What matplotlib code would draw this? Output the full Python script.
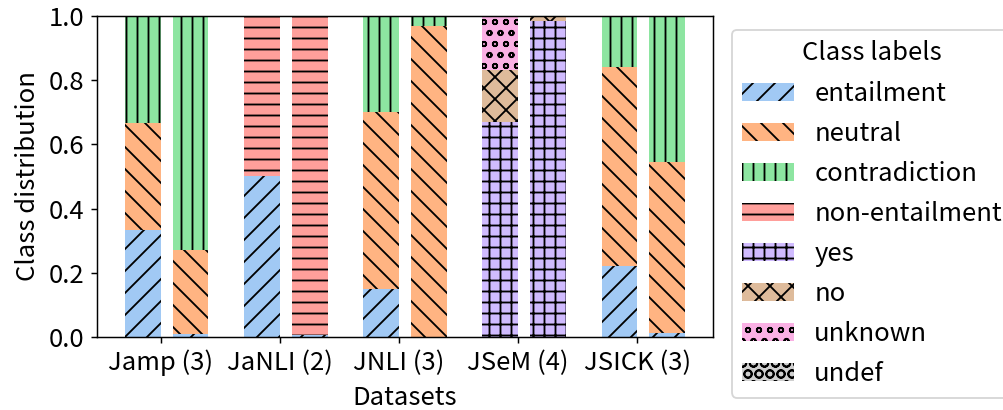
import matplotlib
matplotlib.use("Agg")
import matplotlib.pyplot as plt
import numpy as np

plt.rcParams['font.family'] = ['Noto Sans CJK JP', 'DejaVu Sans']
plt.rcParams['font.size'] = 14

datasets = ['Jamp (3)', 'JaNLI (2)', 'JNLI (3)', 'JSeM (4)', 'JSICK (3)']
class_labels = ['entailment', 'neutral', 'contradiction', 'non-entailment',
                'yes', 'no', 'unknown', 'undef']
colors = ['#a1c9f4', '#ffb482', '#8de5a1', '#ff9f9b',
          '#d0bbff', '#debb9b', '#fab0e4', '#cfcfcf']
hatches = ['//', '\\\\', '||', '--', '++', 'xx', 'oo', 'OO']

# first bar of each dataset (train split)
train_entailment = [0.333, 0.500, 0.149, 0.0, 0.222]
train_neutral = [0.334, 0.0, 0.552, 0.0, 0.618]
train_contradiction = [0.333, 0.0, 0.299, 0.0, 0.160]
train_non_entailment = [0.0, 0.500, 0.0, 0.0, 0.0]
train_yes = [0.0, 0.0, 0.0, 0.671, 0.0]
train_no = [0.0, 0.0, 0.0, 0.161, 0.0]
train_unknown = [0.0, 0.0, 0.0, 0.168, 0.0]
train_undef = [0.0, 0.0, 0.0, 0.0, 0.0]

# second bar of each dataset (test split)
test_entailment = [0.010, 0.005, 0.0, 0.0, 0.012]
test_neutral = [0.262, 0.0, 0.969, 0.0, 0.532]
test_contradiction = [0.728, 0.0, 0.031, 0.0, 0.456]
test_non_entailment = [0.0, 0.995, 0.0, 0.0, 0.0]
test_yes = [0.0, 0.0, 0.0, 0.984, 0.0]
test_no = [0.0, 0.0, 0.0, 0.016, 0.0]
test_unknown = [0.0, 0.0, 0.0, 0.0, 0.0]
test_undef = [0.0, 0.0, 0.0, 0.0, 0.0]

train = [train_entailment, train_neutral, train_contradiction, train_non_entailment,
         train_yes, train_no, train_unknown, train_undef]
test = [test_entailment, test_neutral, test_contradiction, test_non_entailment,
        test_yes, test_no, test_unknown, test_undef]

fig = plt.figure(figsize=(1003 / 132, 410 / 132), dpi=132)
ax = fig.add_axes([97 / 1003, 1 - 337 / 410, (713 - 97) / 1003, (337 - 16) / 410])

x = np.arange(len(datasets))
width = 0.3
handles = []
for split, offset in ((train, -0.15), (test, 0.25)):
    bottom = np.zeros(len(datasets))
    for i, vals in enumerate(split):
        vals = np.array(vals)
        b = ax.bar(x + offset, vals, width, bottom=bottom, color=colors[i],
                   hatch=hatches[i], edgecolor='black', linewidth=0,
                   label=class_labels[i])
        if offset < 0:
            handles.append(b)
        bottom += vals

ax.set_xticks(x)
ax.set_xticklabels(datasets)
ax.set_ylim(0, 1.0)
ax.set_xlabel('Datasets', labelpad=4.5)
ax.set_ylabel('Class distribution')

ax.legend(handles=handles, labels=class_labels, title='Class labels',
          loc='upper left', bbox_to_anchor=(1.031, 0.956), borderaxespad=0,
          labelspacing=0.55)

fig.savefig('out.png', dpi=132)
